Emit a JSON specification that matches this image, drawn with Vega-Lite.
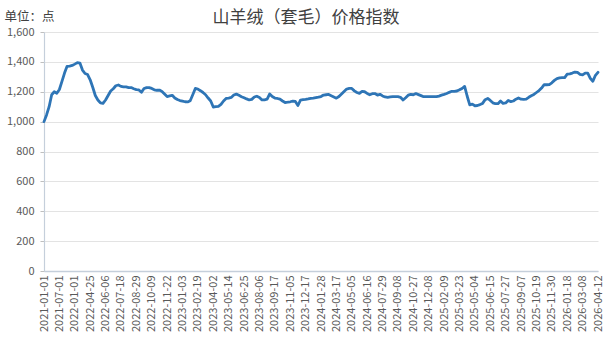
{
"$schema": "https://vega.github.io/schema/vega-lite/v6.json",
"width": 554,
"height": 239,
"autosize": {"type": "none"},
"padding": {"left": 44, "top": 32, "right": 7, "bottom": 70},
"background": "white",
"config": {"font": "Noto Sans CJK SC", "view": {"stroke": null}},
"title": {"text": "山羊绒（套毛）价格指数", "anchor": "middle", "frame": "group", "dx": -15, "dy": 22, "offset": 5, "fontSize": 17, "fontWeight": "normal", "color": "#404040", "font": "Noto Sans CJK SC"},
"data": {"values": [
{"date":"2021-01-01","index":1000},{"date":"2021-02-01","index":1045},{"date":"2021-03-01","index":1100},{"date":"2021-04-01","index":1180},{"date":"2021-05-01","index":1200},{"date":"2021-06-01","index":1190},
{"date":"2021-07-01","index":1215},{"date":"2021-08-01","index":1270},{"date":"2021-09-01","index":1325},{"date":"2021-10-01","index":1370},{"date":"2021-11-01","index":1372},{"date":"2021-12-01","index":1376},
{"date":"2022-01-01","index":1385},{"date":"2022-02-01","index":1395},{"date":"2022-03-01","index":1392},{"date":"2022-04-04","index":1345},{"date":"2022-04-11","index":1322},{"date":"2022-04-18","index":1315},
{"date":"2022-04-25","index":1280},{"date":"2022-05-02","index":1230},{"date":"2022-05-09","index":1175},{"date":"2022-05-16","index":1145},{"date":"2022-05-23","index":1125},{"date":"2022-05-30","index":1122},
{"date":"2022-06-06","index":1145},{"date":"2022-06-13","index":1175},{"date":"2022-06-20","index":1205},{"date":"2022-06-27","index":1220},{"date":"2022-07-04","index":1240},{"date":"2022-07-11","index":1245},
{"date":"2022-07-18","index":1236},{"date":"2022-07-25","index":1233},{"date":"2022-08-01","index":1233},{"date":"2022-08-08","index":1228},{"date":"2022-08-15","index":1228},{"date":"2022-08-22","index":1220},
{"date":"2022-08-29","index":1214},{"date":"2022-09-05","index":1212},{"date":"2022-09-12","index":1196},{"date":"2022-09-19","index":1222},{"date":"2022-09-25","index":1228},{"date":"2022-10-02","index":1227},
{"date":"2022-10-09","index":1222},{"date":"2022-10-16","index":1213},{"date":"2022-10-23","index":1210},{"date":"2022-10-30","index":1211},{"date":"2022-11-06","index":1202},{"date":"2022-11-13","index":1185},
{"date":"2022-11-22","index":1168},{"date":"2022-11-29","index":1172},{"date":"2022-12-06","index":1176},{"date":"2022-12-13","index":1158},{"date":"2022-12-20","index":1148},{"date":"2022-12-27","index":1141},
{"date":"2023-01-03","index":1137},{"date":"2023-01-10","index":1133},{"date":"2023-01-17","index":1132},{"date":"2023-01-29","index":1140},{"date":"2023-02-05","index":1180},{"date":"2023-02-12","index":1222},
{"date":"2023-02-19","index":1218},{"date":"2023-02-26","index":1207},{"date":"2023-03-05","index":1195},{"date":"2023-03-12","index":1180},{"date":"2023-03-19","index":1158},{"date":"2023-03-26","index":1138},
{"date":"2023-04-02","index":1098},{"date":"2023-04-09","index":1100},{"date":"2023-04-16","index":1102},{"date":"2023-04-23","index":1115},{"date":"2023-04-30","index":1138},{"date":"2023-05-07","index":1155},
{"date":"2023-05-14","index":1158},{"date":"2023-05-21","index":1162},{"date":"2023-05-28","index":1178},{"date":"2023-06-04","index":1184},{"date":"2023-06-11","index":1176},{"date":"2023-06-18","index":1167},
{"date":"2023-06-25","index":1160},{"date":"2023-07-02","index":1152},{"date":"2023-07-09","index":1145},{"date":"2023-07-16","index":1149},{"date":"2023-07-23","index":1165},{"date":"2023-07-30","index":1170},
{"date":"2023-08-06","index":1162},{"date":"2023-08-13","index":1145},{"date":"2023-08-20","index":1146},{"date":"2023-08-27","index":1150},{"date":"2023-09-03","index":1185},{"date":"2023-09-10","index":1168},
{"date":"2023-09-17","index":1158},{"date":"2023-09-24","index":1155},{"date":"2023-10-08","index":1150},{"date":"2023-10-15","index":1138},{"date":"2023-10-22","index":1128},{"date":"2023-10-29","index":1130},
{"date":"2023-11-05","index":1133},{"date":"2023-11-12","index":1137},{"date":"2023-11-19","index":1135},{"date":"2023-11-26","index":1108},{"date":"2023-12-03","index":1144},{"date":"2023-12-10","index":1147},
{"date":"2023-12-17","index":1149},{"date":"2023-12-24","index":1152},{"date":"2023-12-31","index":1156},{"date":"2024-01-07","index":1158},{"date":"2024-01-14","index":1161},{"date":"2024-01-21","index":1164},
{"date":"2024-01-28","index":1168},{"date":"2024-02-04","index":1178},{"date":"2024-02-18","index":1180},{"date":"2024-02-25","index":1182},{"date":"2024-03-03","index":1173},{"date":"2024-03-10","index":1165},
{"date":"2024-03-17","index":1157},{"date":"2024-03-24","index":1168},{"date":"2024-03-31","index":1185},{"date":"2024-04-07","index":1202},{"date":"2024-04-14","index":1218},{"date":"2024-04-21","index":1222},
{"date":"2024-05-05","index":1222},{"date":"2024-05-12","index":1206},{"date":"2024-05-19","index":1195},{"date":"2024-05-26","index":1189},{"date":"2024-06-02","index":1202},{"date":"2024-06-09","index":1200},
{"date":"2024-06-16","index":1189},{"date":"2024-06-23","index":1180},{"date":"2024-06-30","index":1187},{"date":"2024-07-07","index":1188},{"date":"2024-07-14","index":1178},{"date":"2024-07-21","index":1183},
{"date":"2024-07-29","index":1172},{"date":"2024-08-04","index":1165},{"date":"2024-08-11","index":1162},{"date":"2024-08-18","index":1165},{"date":"2024-08-25","index":1167},{"date":"2024-09-01","index":1167},
{"date":"2024-09-08","index":1167},{"date":"2024-09-15","index":1163},{"date":"2024-09-22","index":1145},{"date":"2024-09-29","index":1160},{"date":"2024-10-13","index":1177},{"date":"2024-10-20","index":1182},
{"date":"2024-10-27","index":1180},{"date":"2024-11-03","index":1188},{"date":"2024-11-10","index":1181},{"date":"2024-11-17","index":1174},{"date":"2024-11-24","index":1167},{"date":"2024-12-01","index":1167},
{"date":"2024-12-08","index":1167},{"date":"2024-12-15","index":1167},{"date":"2024-12-22","index":1167},{"date":"2024-12-29","index":1167},{"date":"2025-01-05","index":1171},{"date":"2025-01-12","index":1177},
{"date":"2025-02-09","index":1182},{"date":"2025-02-16","index":1188},{"date":"2025-02-23","index":1196},{"date":"2025-03-02","index":1203},{"date":"2025-03-09","index":1203},{"date":"2025-03-16","index":1205},
{"date":"2025-03-23","index":1213},{"date":"2025-03-30","index":1222},{"date":"2025-04-06","index":1236},{"date":"2025-04-13","index":1170},{"date":"2025-04-20","index":1112},{"date":"2025-04-27","index":1117},
{"date":"2025-05-04","index":1106},{"date":"2025-05-11","index":1108},{"date":"2025-05-18","index":1114},{"date":"2025-05-25","index":1122},{"date":"2025-06-01","index":1147},{"date":"2025-06-08","index":1155},
{"date":"2025-06-15","index":1142},{"date":"2025-06-22","index":1126},{"date":"2025-06-29","index":1120},{"date":"2025-07-06","index":1120},{"date":"2025-07-13","index":1138},{"date":"2025-07-20","index":1122},
{"date":"2025-07-27","index":1125},{"date":"2025-08-03","index":1142},{"date":"2025-08-10","index":1134},{"date":"2025-08-17","index":1138},{"date":"2025-08-24","index":1150},{"date":"2025-08-31","index":1158},
{"date":"2025-09-07","index":1150},{"date":"2025-09-14","index":1149},{"date":"2025-09-21","index":1151},{"date":"2025-09-28","index":1163},{"date":"2025-10-05","index":1173},{"date":"2025-10-12","index":1182},
{"date":"2025-10-19","index":1195},{"date":"2025-10-26","index":1208},{"date":"2025-11-02","index":1225},{"date":"2025-11-09","index":1247},{"date":"2025-11-16","index":1247},{"date":"2025-11-23","index":1248},
{"date":"2025-11-30","index":1260},{"date":"2025-12-07","index":1276},{"date":"2025-12-14","index":1288},{"date":"2025-12-21","index":1293},{"date":"2026-01-04","index":1294},{"date":"2026-01-11","index":1295},
{"date":"2026-01-18","index":1318},{"date":"2026-01-25","index":1320},{"date":"2026-02-01","index":1325},{"date":"2026-02-08","index":1332},{"date":"2026-02-22","index":1330},{"date":"2026-03-01","index":1317},
{"date":"2026-03-08","index":1313},{"date":"2026-03-12","index":1325},{"date":"2026-03-15","index":1325},{"date":"2026-03-22","index":1290},{"date":"2026-03-29","index":1270},{"date":"2026-04-05","index":1310},
{"date":"2026-04-12","index":1330}
]},
"mark": {"type": "line", "color": "#2E75B6", "strokeWidth": 2.8, "strokeJoin": "round", "strokeCap": "round"},
"encoding": {
"x": {"field": "date", "type": "ordinal", "sort": null, "scale": {"type": "point", "padding": 0},
"axis": {"title": null, "values": ["2021-01-01","2021-07-01","2022-01-01","2022-04-25","2022-06-06","2022-07-18","2022-08-29","2022-10-09","2022-11-22","2023-01-03","2023-02-19","2023-04-02","2023-05-14","2023-06-25","2023-08-06","2023-09-17","2023-11-05","2023-12-17","2024-01-28","2024-03-17","2024-05-05","2024-06-16","2024-07-29","2024-09-08","2024-10-27","2024-12-08","2025-02-09","2025-03-23","2025-05-04","2025-06-15","2025-07-27","2025-09-07","2025-10-19","2025-11-30","2026-01-18","2026-03-08","2026-04-12"],
"labelAngle": -90, "labelFontSize": 11, "labelColor": "#595959", "labelPadding": 4, "ticks": false, "domainColor": "#c5cfdb", "domainWidth": 1.5, "grid": false, "labelOverlap": false}},
"y": {"field": "index", "type": "quantitative", "scale": {"domain": [0, 1600], "nice": false},
"axis": {"values": [0,200,400,600,800,1000,1200,1400,1600], "format": ",d", "labelFontSize": 11, "labelColor": "#595959", "labelPadding": 6, "tickSize": 4, "tickColor": "#bfbfbf", "domainColor": "#c5cfdb", "domainWidth": 1.2, "gridColor": "#e3e3e3", "gridWidth": 1,
"title": "单位：点", "titleAngle": 0, "titleAlign": "left", "titleBaseline": "middle", "titleX": -40, "titleY": -16, "titleFontSize": 12.5, "titleFontWeight": "normal", "titleColor": "#404040"}}
}
}
